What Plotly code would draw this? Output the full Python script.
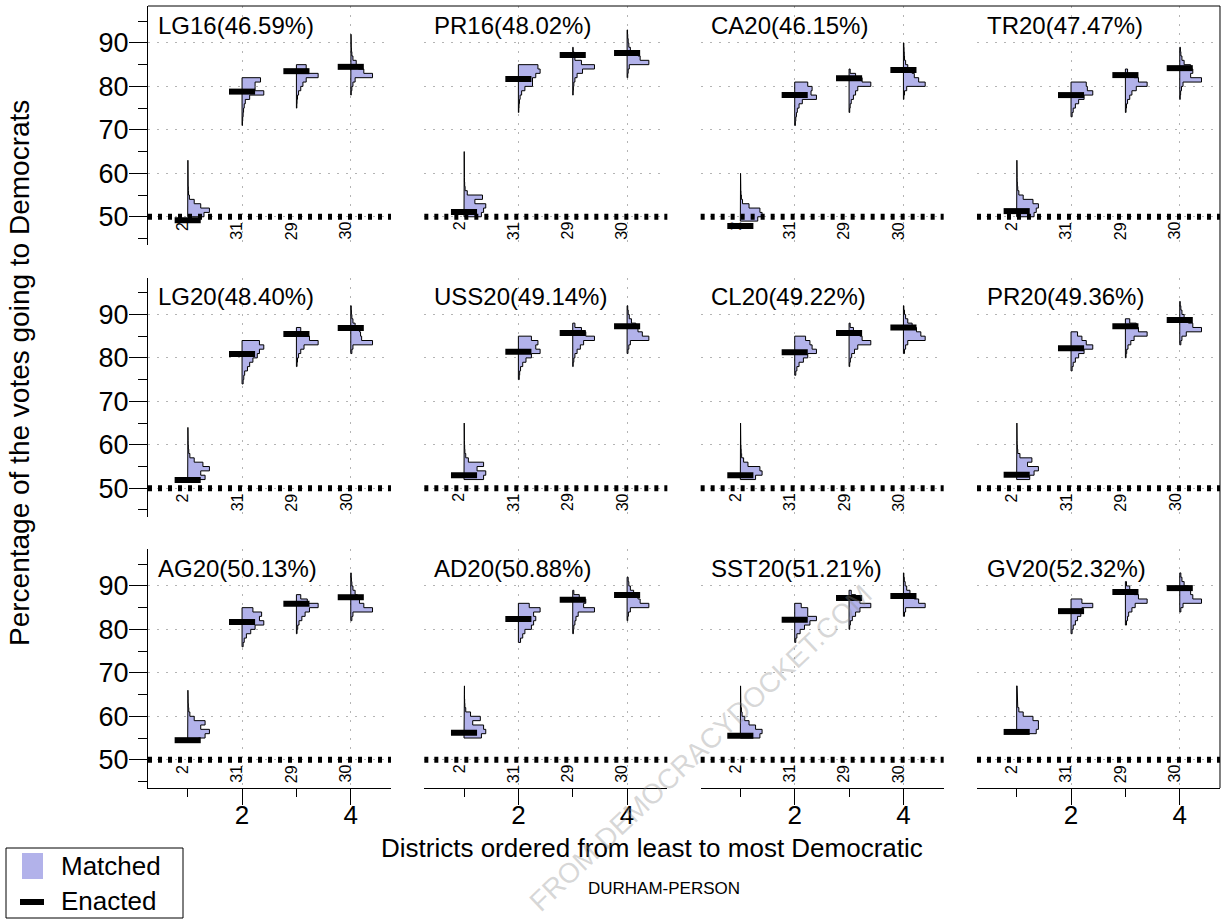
import plotly.graph_objects as go

FONT = "Liberation Sans, Arial, Helvetica, sans-serif"
W, H = 1225, 921

district_labels = ["2", "31", "29", "30"]
district_x = [1, 2, 3, 4]

# ---------------- data ----------------
# each panel: enacted vote share per district, first bin of the matched
# histogram (1-point bins) and the relative bin frequencies
LG16_title = "LG16(46.59%)"
LG16_enacted = [49.2, 78.8, 83.5, 84.5]
LG16_bin_start = [50, 71, 75, 78]
LG16_freq = [
    [0.75, 1.0, 0.6, 0.3, 0.08, 0.04, 0.03, 0.02, 0.02, 0.02, 0.01, 0.01, 0.01],
    [0.02, 0.03, 0.05, 0.07, 0.1, 0.15, 0.35, 1.0, 0.6, 0.6, 0.85],
    [0.02, 0.03, 0.05, 0.1, 0.2, 0.3, 0.45, 1.0, 0.5, 0.45],
    [0.02, 0.05, 0.1, 0.2, 1.0, 0.6, 0.35, 0.25, 0.1, 0.05, 0.03, 0.02, 0.02, 0.01],
]

PR16_title = "PR16(48.02%)"
PR16_enacted = [51.1, 81.7, 87.2, 87.7]
PR16_bin_start = [50, 74, 78, 82]
PR16_freq = [
    [0.8, 0.9, 1.0, 0.5, 0.85, 0.15, 0.05, 0.03, 0.02, 0.02, 0.02, 0.01, 0.01, 0.01, 0.01],
    [0.02, 0.03, 0.05, 0.08, 0.15, 0.3, 0.65, 0.65, 0.8, 1.0, 0.9],
    [0.02, 0.03, 0.05, 0.1, 0.2, 0.45, 1.0, 0.4, 0.1, 0.05, 0.02],
    [0.03, 0.05, 0.1, 1.0, 0.6, 0.5, 0.15, 0.08, 0.05, 0.03, 0.02],
]

CA20_title = "CA20(46.15%)"
CA20_enacted = [47.9, 78.0, 81.9, 83.8]
CA20_bin_start = [49, 71, 74, 77]
CA20_freq = [
    [0.8, 1.0, 0.9, 0.4, 0.1, 0.05, 0.03, 0.02, 0.02, 0.01, 0.01],
    [0.03, 0.05, 0.08, 0.12, 0.2, 0.35, 1.0, 0.75, 0.8, 0.6],
    [0.03, 0.05, 0.1, 0.2, 0.3, 0.4, 1.0, 0.6, 0.3, 0.05],
    [0.02, 0.05, 0.15, 1.0, 0.7, 0.5, 0.4, 0.2, 0.1, 0.05, 0.04, 0.03, 0.02],
]

TR20_title = "TR20(47.47%)"
TR20_enacted = [51.3, 78.0, 82.6, 84.2]
TR20_bin_start = [50, 73, 74, 77]
TR20_freq = [
    [0.8, 0.9, 1.0, 0.75, 0.3, 0.1, 0.05, 0.03, 0.02, 0.02, 0.02, 0.01, 0.01],
    [0.05, 0.1, 0.2, 0.35, 0.6, 1.0, 0.75, 0.7],
    [0.03, 0.05, 0.1, 0.2, 0.3, 0.5, 1.0, 0.6, 0.4, 0.1],
    [0.02, 0.04, 0.08, 0.15, 1.0, 0.5, 0.6, 0.5, 0.2, 0.1, 0.05, 0.03],
]

LG20_title = "LG20(48.40%)"
LG20_enacted = [51.9, 80.9, 85.5, 86.9]
LG20_bin_start = [52, 74, 78, 81]
LG20_freq = [
    [0.8, 0.6, 1.0, 0.7, 0.3, 0.1, 0.05, 0.03, 0.02, 0.02, 0.02, 0.01],
    [0.05, 0.08, 0.12, 0.25, 0.35, 0.5, 0.7, 0.8, 1.0, 0.8],
    [0.03, 0.05, 0.1, 0.2, 0.35, 1.0, 0.6, 0.5, 0.2],
    [0.05, 0.1, 1.0, 0.5, 0.45, 0.4, 0.2, 0.1, 0.05, 0.03, 0.02],
]

USS20_title = "USS20(49.14%)"
USS20_enacted = [53.0, 81.4, 85.7, 87.3]
USS20_bin_start = [52, 75, 78, 81]
USS20_freq = [
    [0.9, 1.0, 0.6, 0.9, 0.2, 0.08, 0.04, 0.03, 0.02, 0.02, 0.02, 0.01, 0.01],
    [0.04, 0.06, 0.1, 0.2, 0.35, 0.6, 1.0, 0.8, 0.9, 0.6],
    [0.02, 0.05, 0.1, 0.2, 0.35, 0.5, 1.0, 0.6, 0.4, 0.1],
    [0.04, 0.08, 0.15, 1.0, 0.7, 0.5, 0.4, 0.2, 0.1, 0.05, 0.03],
]

CL20_title = "CL20(49.22%)"
CL20_enacted = [53.0, 81.3, 85.7, 87.0]
CL20_bin_start = [52, 76, 78, 81]
CL20_freq = [
    [0.7, 1.0, 0.9, 0.35, 0.15, 0.06, 0.04, 0.03, 0.02, 0.02, 0.02, 0.01, 0.01],
    [0.05, 0.1, 0.2, 0.4, 0.6, 1.0, 0.8, 0.7, 0.5],
    [0.03, 0.06, 0.12, 0.25, 0.4, 1.0, 0.6, 0.5, 0.2, 0.05],
    [0.05, 0.1, 0.2, 1.0, 0.8, 0.6, 0.4, 0.2, 0.1, 0.05, 0.02],
]

PR20_title = "PR20(49.36%)"
PR20_enacted = [53.1, 82.2, 87.3, 88.7]
PR20_bin_start = [52, 77, 80, 83]
PR20_freq = [
    [0.6, 0.8, 1.0, 0.5, 0.7, 0.15, 0.05, 0.03, 0.02, 0.02, 0.02, 0.01, 0.01],
    [0.05, 0.1, 0.2, 0.35, 0.6, 1.0, 0.7, 0.5, 0.3],
    [0.03, 0.06, 0.12, 0.25, 0.4, 1.0, 0.6, 0.5, 0.2],
    [0.05, 0.1, 0.3, 1.0, 0.6, 0.4, 0.2, 0.1, 0.05, 0.02],
]

AG20_title = "AG20(50.13%)"
AG20_enacted = [54.5, 81.7, 85.9, 87.4]
AG20_bin_start = [54, 76, 79, 82]
AG20_freq = [
    [0.5, 0.8, 1.0, 0.6, 0.8, 0.3, 0.1, 0.05, 0.03, 0.02, 0.02, 0.01],
    [0.05, 0.1, 0.2, 0.4, 0.6, 1.0, 0.8, 0.9, 0.5],
    [0.03, 0.06, 0.12, 0.25, 0.4, 0.6, 1.0, 0.5, 0.2],
    [0.05, 0.1, 1.0, 0.6, 0.4, 0.3, 0.2, 0.1, 0.05, 0.03, 0.02],
]

AD20_title = "AD20(50.88%)"
AD20_enacted = [56.2, 82.4, 86.8, 87.9]
AD20_bin_start = [55, 77, 79, 82]
AD20_freq = [
    [0.8, 1.0, 0.9, 0.4, 0.75, 0.3, 0.08, 0.04, 0.03, 0.02, 0.02, 0.02],
    [0.1, 0.2, 0.3, 0.6, 0.7, 0.8, 0.7, 1.0, 0.5],
    [0.03, 0.05, 0.1, 0.15, 0.25, 1.0, 0.5, 0.6, 0.3, 0.05],
    [0.03, 0.06, 0.15, 1.0, 0.6, 0.5, 0.3, 0.15, 0.08, 0.05],
]

SST20_title = "SST20(51.21%)"
SST20_enacted = [55.5, 82.2, 87.2, 87.7]
SST20_bin_start = [55, 77, 80, 83]
SST20_freq = [
    [0.9, 1.0, 0.7, 0.4, 0.2, 0.08, 0.05, 0.03, 0.02, 0.02, 0.02, 0.01],
    [0.05, 0.1, 0.25, 0.45, 0.7, 1.0, 0.6, 0.6, 0.3],
    [0.03, 0.06, 0.15, 0.3, 0.5, 1.0, 0.5, 0.3, 0.1],
    [0.05, 0.1, 1.0, 0.7, 0.5, 0.3, 0.15, 0.08, 0.04, 0.02],
]

GV20_title = "GV20(52.32%)"
GV20_enacted = [56.4, 84.2, 88.6, 89.5]
GV20_bin_start = [56, 79, 81, 84]
GV20_freq = [
    [0.9, 1.0, 1.0, 0.75, 0.3, 0.1, 0.05, 0.03, 0.02, 0.02, 0.02],
    [0.05, 0.1, 0.2, 0.3, 0.45, 0.5, 1.0, 0.5],
    [0.05, 0.1, 0.15, 0.3, 0.45, 1.0, 0.6, 0.4, 0.2, 0.05],
    [0.05, 0.15, 1.0, 0.6, 0.5, 0.4, 0.2, 0.1, 0.05],
]

panels = [
    (LG16_title, LG16_enacted, LG16_bin_start, LG16_freq),
    (PR16_title, PR16_enacted, PR16_bin_start, PR16_freq),
    (CA20_title, CA20_enacted, CA20_bin_start, CA20_freq),
    (TR20_title, TR20_enacted, TR20_bin_start, TR20_freq),
    (LG20_title, LG20_enacted, LG20_bin_start, LG20_freq),
    (USS20_title, USS20_enacted, USS20_bin_start, USS20_freq),
    (CL20_title, CL20_enacted, CL20_bin_start, CL20_freq),
    (PR20_title, PR20_enacted, PR20_bin_start, PR20_freq),
    (AG20_title, AG20_enacted, AG20_bin_start, AG20_freq),
    (AD20_title, AD20_enacted, AD20_bin_start, AD20_freq),
    (SST20_title, SST20_enacted, SST20_bin_start, SST20_freq),
    (GV20_title, GV20_enacted, GV20_bin_start, GV20_freq),
]

threshold = 50
x_title = "Districts ordered from least to most Democratic"
y_title = "Percentage of the votes going to Democrats"
subtitle = "DURHAM-PERSON"
legend_labels = ["Matched", "Enacted"]
watermark = "FROM DEMOCRACYDOCKET.COM"

# ---------------- styling / layout constants ----------------
MATCH_FILL = "#B2B2EA"
HIST_MAXW = 0.40      # widest bin, in x units
BAR_HALF = 0.24       # half width of enacted bar
XR = [0.27, 4.74]
YR = [43.5, 98.5]
PLOT_L, PANEL_W, COL_STEP = 148, 243, 276.33
PLOT_T, PANEL_H, ROW_STEP = 6, 239, 271.5
GRID = "#b4b4b4"
GRID_DASH = "2px,7px"


def px(x):
    return x / W


def py(y):
    return 1 - y / H


def hist_polygon(x0, start, freq):
    xs, ys = [x0], [start]
    for i, f in enumerate(freq):
        xs += [x0 + f * HIST_MAXW, x0 + f * HIST_MAXW]
        ys += [start + i, start + i + 1]
    xs += [x0, x0]
    ys += [start + len(freq), start]
    return xs, ys


fig = go.Figure()
annotations = []
shapes = []
layout_axes = {}

for k, (title, enacted, bin_start, freq) in enumerate(panels):
    r, c = divmod(k, 4)
    sfx = "" if k == 0 else str(k + 1)
    xname, yname = "x" + sfx, "y" + sfx

    left = PLOT_L + c * COL_STEP
    top = PLOT_T + r * ROW_STEP
    xdom = [px(left), px(left + PANEL_W)]
    ydom = [py(top + PANEL_H), py(top)]

    xa = dict(domain=xdom, range=XR, anchor=yname, tickmode="linear", tick0=0, dtick=2,
              showgrid=True, gridcolor=GRID, griddash=GRID_DASH, gridwidth=1,
              zeroline=False, fixedrange=True)
    if r == 2:
        xa.update(showline=True, linecolor="black", linewidth=1, ticks="outside",
                  ticklen=16, tickwidth=1, tickcolor="black", showticklabels=True,
                  ticklabelstandoff=-12,
                  tickfont=dict(size=26, color="black", family=FONT),
                  minor=dict(tick0=0, dtick=1, ticks="outside", ticklen=8, tickwidth=1,
                             tickcolor="black", showgrid=False))
    else:
        xa.update(showline=False, ticks="", showticklabels=False)

    ya = dict(domain=ydom, range=YR, anchor=xname, tickmode="linear", tick0=0, dtick=10,
              showgrid=True, gridcolor=GRID, griddash=GRID_DASH, gridwidth=1,
              zeroline=False, fixedrange=True)
    if c == 0:
        ya.update(showline=True, linecolor="black", linewidth=1, ticks="outside",
                  ticklen=18, tickwidth=1, tickcolor="black", showticklabels=True,
                  ticklabelstandoff=-5,
                  tickfont=dict(size=27, color="black", family=FONT),
                  minor=dict(tick0=0, dtick=5, ticks="outside", ticklen=9, tickwidth=1,
                             tickcolor="black", showgrid=False))
    else:
        ya.update(showline=False, ticks="", showticklabels=False)

    layout_axes["xaxis" + sfx] = xa
    layout_axes["yaxis" + sfx] = ya

    # matched histograms
    for xpos, s, f in zip(district_x, bin_start, freq):
        hx, hy = hist_polygon(xpos, s, f)
        fig.add_trace(go.Scatter(x=hx, y=hy, mode="lines", fill="toself",
                                 fillcolor=MATCH_FILL, line=dict(color="black", width=1),
                                 xaxis=xname, yaxis=yname, showlegend=False,
                                 hoverinfo="skip"))
    # enacted bars
    bx, by = [], []
    for xpos, v in zip(district_x, enacted):
        bx += [xpos - BAR_HALF, xpos + BAR_HALF, None]
        by += [v, v, None]
    fig.add_trace(go.Scatter(x=bx, y=by, mode="lines", line=dict(color="black", width=6),
                             xaxis=xname, yaxis=yname, showlegend=False,
                             hoverinfo="skip"))

    # 50% line
    shapes.append(dict(type="line", xref=xname + " domain", yref=yname,
                       x0=0, x1=1, y0=threshold, y1=threshold,
                       line=dict(color="black", width=6, dash="4px,6px")))

    # panel title
    annotations.append(dict(text=title, xref=xname + " domain", yref=yname + " domain",
                            x=8 / PANEL_W, y=1 - 19 / PANEL_H, xanchor="left",
                            yanchor="middle", showarrow=False,
                            font=dict(size=24, color="black", family=FONT)))
    # district labels
    for xpos, lab in zip(district_x, district_labels):
        annotations.append(dict(text=lab, xref=xname, yref=yname, x=xpos, y=threshold,
                                xanchor="center", yanchor="top", textangle=-90,
                                xshift=-5, yshift=-3, showarrow=False,
                                font=dict(size=16, color="black", family=FONT)))

# outer frame: top and right
plot_right = PLOT_L + 3 * COL_STEP + PANEL_W
plot_bottom = PLOT_T + 2 * ROW_STEP + PANEL_H
shapes.append(dict(type="line", xref="paper", yref="paper", x0=px(PLOT_L), x1=px(plot_right),
                   y0=py(PLOT_T), y1=py(PLOT_T), line=dict(color="black", width=1)))
shapes.append(dict(type="line", xref="paper", yref="paper", x0=px(plot_right), x1=px(plot_right),
                   y0=py(PLOT_T), y1=py(plot_bottom), line=dict(color="black", width=1)))

# axis titles
annotations.append(dict(text=x_title, xref="paper", yref="paper", x=px(652), y=py(848),
                        xanchor="center", yanchor="middle", showarrow=False,
                        font=dict(size=26, color="black", family=FONT)))
annotations.append(dict(text=y_title, xref="paper", yref="paper", x=px(20), y=py(373),
                        xanchor="center", yanchor="middle", textangle=-90, showarrow=False,
                        font=dict(size=28, color="black", family=FONT)))
annotations.append(dict(text=subtitle, xref="paper", yref="paper", x=px(664), y=py(888),
                        xanchor="center", yanchor="middle", showarrow=False,
                        font=dict(size=17, color="black", family=FONT)))

# legend (drawn manually, bottom-left)
shapes.append(dict(type="rect", xref="paper", yref="paper", x0=px(6), x1=px(183),
                   y0=py(918), y1=py(848), line=dict(color="black", width=1),
                   fillcolor="white"))
shapes.append(dict(type="rect", xref="paper", yref="paper", x0=px(22), x1=px(43),
                   y0=py(879), y1=py(853), line=dict(width=0), fillcolor=MATCH_FILL))
shapes.append(dict(type="line", xref="paper", yref="paper", x0=px(20), x1=px(44),
                   y0=py(902), y1=py(902), line=dict(color="black", width=6)))
for lab, yy in zip(legend_labels, [866, 901]):
    annotations.append(dict(text=lab, xref="paper", yref="paper", x=px(59), y=py(yy),
                            xanchor="left", yanchor="middle", showarrow=False,
                            font=dict(size=26, color="black", family=FONT)))

# faint diagonal watermark
annotations.append(dict(text=watermark, xref="paper", yref="paper", x=px(700), y=py(748),
                        xanchor="center", yanchor="middle", textangle=-43.5, showarrow=False,
                        font=dict(size=28, color="rgba(140,140,140,0.35)", family=FONT)))

fig.update_layout(width=W, height=H, margin=dict(l=0, r=0, t=0, b=0),
                  paper_bgcolor="white", plot_bgcolor="white", showlegend=False,
                  annotations=annotations, shapes=shapes, **layout_axes)

fig.write_html("out.html", config={"displayModeBar": False},
               post_script="document.body.style.margin='0px';document.body.style.overflow='hidden';")
